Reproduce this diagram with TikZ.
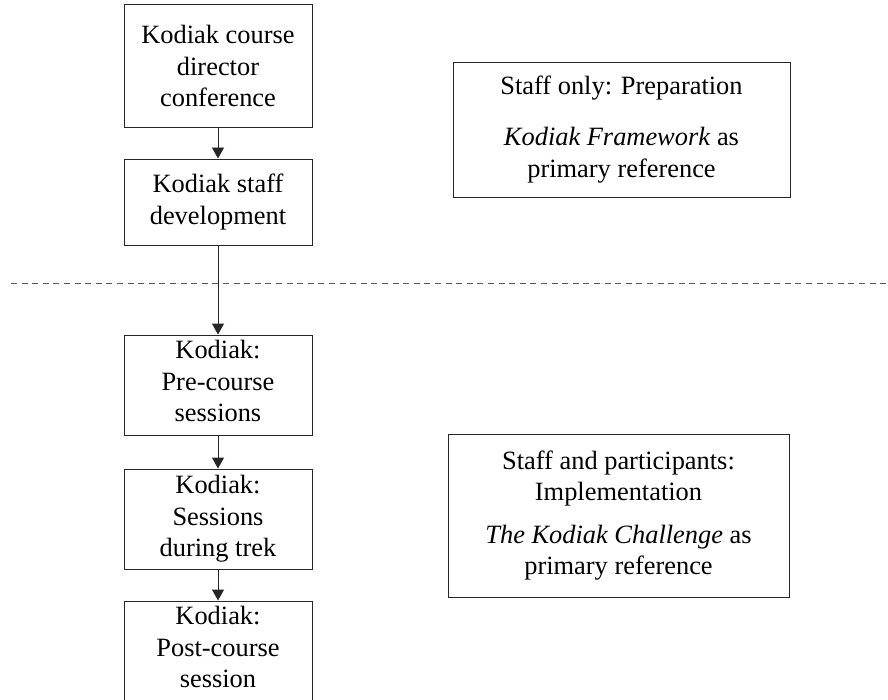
\documentclass[tikz,border=0pt]{standalone}
\usepackage{fontspec}
\setmainfont{Liberation Serif}
\usetikzlibrary{arrows.meta}
\tikzset{
  flowbox/.style={draw=black!85, line width=0.9pt, rectangle, align=center, inner sep=0pt,
    font=\fontsize{26.4}{31.6}\selectfont},
  infobox/.style={draw=black!85, line width=0.9pt, rectangle, align=center, inner sep=0pt,
    font=\fontsize{26.4}{31.6}\selectfont},
  flowarrow/.style={draw=black!85, line width=0.9pt, -{Triangle[width=12pt,length=11pt]}},
  divider/.style={draw=black!65, line width=0.9pt, dash pattern=on 6pt off 4.6pt}
}
\begin{document}
\begin{tikzpicture}[x=1pt,y=-1pt]
\clip (0,0) rectangle (888,700);
\node[flowbox, minimum width=188pt, minimum height=123pt] (b1) at (218,66) {Kodiak course\\director\\conference};
\node[flowbox, minimum width=188pt, minimum height=86pt] (b2) at (218,202) {Kodiak staff\\development};
\node[flowbox, minimum width=188pt, minimum height=100pt] (b3) at (218,385) {Kodiak:\\Pre-course\\sessions\\[-23.6pt]\mbox{}};
\node[flowbox, minimum width=188pt, minimum height=100pt] (b4) at (218,519) {Kodiak:\\Sessions\\during trek};
\node[flowbox, minimum width=188pt, minimum height=104pt] (b5) at (218,653) {Kodiak:\\Post-course\\session\\[-19.6pt]\mbox{}};
\node[infobox, minimum width=337pt, minimum height=135pt] (r1) at (621.5,129.5) {Staff only: Preparation\\[20pt]\textit{Kodiak Framework} as\\primary reference};
\node[infobox, minimum width=341pt, minimum height=163pt] (r2) at (618.5,515.5) {Staff and participants:\\Implementation\\[11pt]\textit{The Kodiak Challenge} as\\primary reference};
\coordinate (dl) at (11,283);
\coordinate (dr) at (888,283);
\draw[divider] (dl) -- (dr);
\draw[flowarrow] (b1) -- (b2);
\draw[flowarrow] (b2) -- (b3);
\draw[flowarrow] (b3) -- (b4);
\draw[flowarrow] (b4) -- (b5);
\end{tikzpicture}
\end{document}
